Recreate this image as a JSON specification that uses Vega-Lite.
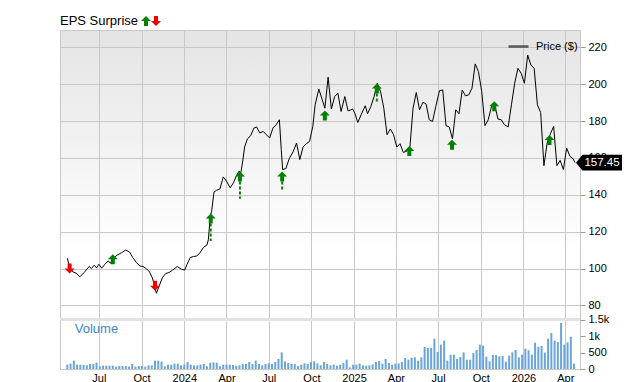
{
  "$schema": "https://vega.github.io/schema/vega-lite/v6.json",
  "width": 520,
  "height": 339,
  "autosize": {"type": "none"},
  "padding": {"left": 60, "top": 30, "right": 60, "bottom": 13},
  "background": "white",
  "config": {
    "font": "Liberation Sans",
    "view": {
      "stroke": "#c8c8c8",
      "fill": {"gradient": "linear", "x1": 0, "y1": 0, "x2": 0, "y2": 1,
        "stops": [{"offset": 0, "color": "#e4e4e4"}, {"offset": 0.65, "color": "#ffffff"}, {"offset": 1, "color": "#ffffff"}]}
    },
    "axis": {"gridColor": "#c8c8c8", "gridOpacity": 1, "labelFont": "Liberation Sans", "labelFontSize": 11, "labelColor": "#000", "domain": false, "tickColor": "#999", "title": null, "zindex": 0},
    "legend": {"labelFont": "Liberation Sans", "titleFont": "Liberation Sans"}
  },
  "datasets": {
    "price": [
      {"d":"2023-04-24","p":105.6},{"d":"2023-04-29","p":100.5},{"d":"2023-05-06","p":98.2},{"d":"2023-05-13","p":97.5},{"d":"2023-05-21","p":95.5},{"d":"2023-05-30","p":97.8},{"d":"2023-06-10","p":101.1},{"d":"2023-06-15","p":100.0},{"d":"2023-06-21","p":101.8},{"d":"2023-06-26","p":100.3},
      {"d":"2023-07-01","p":102.3},{"d":"2023-07-07","p":100.2},{"d":"2023-07-14","p":102.3},{"d":"2023-07-21","p":104.1},{"d":"2023-07-26","p":102.9},{"d":"2023-07-31","p":105.4},{"d":"2023-08-09","p":107.2},{"d":"2023-08-19","p":108.6},{"d":"2023-08-28","p":110.0},{"d":"2023-09-05","p":109.0},
      {"d":"2023-09-12","p":106.0},{"d":"2023-09-20","p":103.2},{"d":"2023-09-27","p":101.4},{"d":"2023-10-04","p":101.1},{"d":"2023-10-11","p":100.0},{"d":"2023-10-18","p":98.2},{"d":"2023-10-24","p":95.1},{"d":"2023-10-29","p":90.6},{"d":"2023-11-02","p":86.6},{"d":"2023-11-08","p":90.6},
      {"d":"2023-11-15","p":95.1},{"d":"2023-11-22","p":97.3},{"d":"2023-11-29","p":97.8},{"d":"2023-12-07","p":99.2},{"d":"2023-12-17","p":101.1},{"d":"2023-12-26","p":99.6},{"d":"2024-01-02","p":99.2},{"d":"2024-01-07","p":102.3},{"d":"2024-01-14","p":106.0},{"d":"2024-01-21","p":106.5},
      {"d":"2024-01-28","p":106.8},{"d":"2024-02-04","p":108.6},{"d":"2024-02-11","p":111.4},{"d":"2024-02-19","p":112.8},{"d":"2024-02-22","p":115.8},{"d":"2024-02-26","p":128.4},{"d":"2024-02-29","p":131.1},{"d":"2024-03-05","p":141.4},{"d":"2024-03-11","p":142.5},{"d":"2024-03-18","p":143.2},
      {"d":"2024-03-25","p":149.7},{"d":"2024-04-01","p":147.4},{"d":"2024-04-09","p":143.8},{"d":"2024-04-16","p":146.5},{"d":"2024-04-22","p":150.1},{"d":"2024-04-28","p":152.8},{"d":"2024-05-02","p":151.9},{"d":"2024-05-07","p":160.0},{"d":"2024-05-10","p":165.9},{"d":"2024-05-16","p":170.3},
      {"d":"2024-05-23","p":172.0},{"d":"2024-05-30","p":176.2},{"d":"2024-06-05","p":176.8},{"d":"2024-06-12","p":173.5},{"d":"2024-06-19","p":174.4},{"d":"2024-06-26","p":172.6},{"d":"2024-07-03","p":170.8},{"d":"2024-07-10","p":176.2},{"d":"2024-07-17","p":178.0},{"d":"2024-07-24","p":180.7},
      {"d":"2024-07-28","p":164.5},{"d":"2024-07-31","p":153.7},{"d":"2024-08-07","p":154.2},{"d":"2024-08-14","p":159.5},{"d":"2024-08-23","p":163.6},{"d":"2024-08-30","p":168.1},{"d":"2024-09-06","p":159.1},{"d":"2024-09-13","p":165.9},{"d":"2024-09-20","p":167.7},{"d":"2024-09-27","p":169.0},
      {"d":"2024-10-04","p":177.1},{"d":"2024-10-09","p":188.8},{"d":"2024-10-17","p":197.3},{"d":"2024-10-24","p":191.9},{"d":"2024-10-30","p":187.0},{"d":"2024-11-06","p":203.8},{"d":"2024-11-13","p":186.5},{"d":"2024-11-20","p":193.3},{"d":"2024-11-27","p":195.1},{"d":"2024-12-04","p":185.2},
      {"d":"2024-12-12","p":193.3},{"d":"2024-12-19","p":185.5},{"d":"2024-12-29","p":186.5},{"d":"2025-01-03","p":184.0},{"d":"2025-01-09","p":179.2},{"d":"2025-01-16","p":183.4},{"d":"2025-01-25","p":188.3},{"d":"2025-01-30","p":184.0},{"d":"2025-02-06","p":187.9},{"d":"2025-02-13","p":193.3},
      {"d":"2025-02-20","p":200.5},{"d":"2025-02-27","p":196.0},{"d":"2025-03-06","p":187.0},{"d":"2025-03-13","p":172.6},{"d":"2025-03-20","p":175.7},{"d":"2025-03-27","p":172.6},{"d":"2025-04-03","p":165.9},{"d":"2025-04-10","p":167.7},{"d":"2025-04-17","p":163.0},{"d":"2025-04-24","p":163.6},
      {"d":"2025-05-01","p":164.9},{"d":"2025-05-08","p":187.0},{"d":"2025-05-15","p":195.5},{"d":"2025-05-22","p":186.1},{"d":"2025-05-29","p":190.1},{"d":"2025-06-05","p":189.4},{"d":"2025-06-12","p":180.7},{"d":"2025-06-19","p":179.8},{"d":"2025-06-26","p":187.9},{"d":"2025-07-04","p":196.5},
      {"d":"2025-07-11","p":196.9},{"d":"2025-07-18","p":177.5},{"d":"2025-07-25","p":176.8},{"d":"2025-08-01","p":170.3},{"d":"2025-08-08","p":186.1},{"d":"2025-08-15","p":184.0},{"d":"2025-08-22","p":196.9},{"d":"2025-08-29","p":193.7},{"d":"2025-09-05","p":194.2},{"d":"2025-09-12","p":197.8},
      {"d":"2025-09-19","p":211.0},{"d":"2025-09-26","p":206.8},{"d":"2025-10-03","p":196.0},{"d":"2025-10-10","p":177.5},{"d":"2025-10-17","p":180.7},{"d":"2025-10-24","p":187.9},{"d":"2025-10-31","p":188.8},{"d":"2025-11-07","p":181.1},{"d":"2025-11-14","p":180.7},{"d":"2025-11-21","p":178.0},
      {"d":"2025-11-29","p":176.8},{"d":"2025-12-06","p":188.8},{"d":"2025-12-13","p":200.5},{"d":"2025-12-20","p":208.6},{"d":"2025-12-27","p":205.9},{"d":"2026-01-03","p":200.5},{"d":"2026-01-10","p":215.8},{"d":"2026-01-17","p":210.4},{"d":"2026-01-24","p":208.6},{"d":"2026-01-31","p":188.8},
      {"d":"2026-02-07","p":184.6},{"d":"2026-02-14","p":155.8},{"d":"2026-02-21","p":168.1},{"d":"2026-02-28","p":173.1},{"d":"2026-03-07","p":177.1},{"d":"2026-03-14","p":155.8},{"d":"2026-03-21","p":158.7},{"d":"2026-03-28","p":153.7},{"d":"2026-04-04","p":165.4},{"d":"2026-04-11","p":160.9},
      {"d":"2026-04-18","p":159.5},{"d":"2026-04-22","p":157.45}
    ],
    "eps": [
      {"d":"2023-04-29","t":"miss","p":100.0},
      {"d":"2023-07-31","t":"beat","p":105.0},
      {"d":"2023-10-30","t":"miss","p":90.6},
      {"d":"2024-02-27","t":"beat","p":127.2,"lo":115.0},
      {"d":"2024-04-30","t":"beat","p":149.9,"lo":137.8},
      {"d":"2024-07-30","t":"beat","p":149.9,"lo":142.9},
      {"d":"2024-10-30","t":"beat","p":183.0},
      {"d":"2025-02-19","t":"beat","p":197.7,"lo":190.0},
      {"d":"2025-04-30","t":"beat","p":163.8},
      {"d":"2025-07-31","t":"beat","p":167.2},
      {"d":"2025-10-30","t":"beat","p":188.0},
      {"d":"2026-02-26","t":"beat","p":169.7}
    ],
    "vol": [
      {"d":"2023-04-24","v":131},{"d":"2023-05-01","v":162},{"d":"2023-05-08","v":253},{"d":"2023-05-15","v":131},{"d":"2023-05-22","v":131},{"d":"2023-05-29","v":121},{"d":"2023-06-05","v":111},{"d":"2023-06-12","v":152},{"d":"2023-06-19","v":152},{"d":"2023-06-26","v":192},
      {"d":"2023-07-03","v":81},{"d":"2023-07-10","v":101},{"d":"2023-07-17","v":101},{"d":"2023-07-24","v":101},{"d":"2023-07-31","v":101},{"d":"2023-08-07","v":71},{"d":"2023-08-14","v":91},{"d":"2023-08-21","v":91},{"d":"2023-08-28","v":91},{"d":"2023-09-04","v":71},
      {"d":"2023-09-11","v":152},{"d":"2023-09-18","v":71},{"d":"2023-09-25","v":91},{"d":"2023-10-02","v":91},{"d":"2023-10-09","v":71},{"d":"2023-10-16","v":111},{"d":"2023-10-23","v":111},{"d":"2023-10-30","v":253},{"d":"2023-11-06","v":253},{"d":"2023-11-13","v":222},
      {"d":"2023-11-20","v":81},{"d":"2023-11-27","v":131},{"d":"2023-12-04","v":131},{"d":"2023-12-11","v":162},{"d":"2023-12-18","v":162},{"d":"2023-12-25","v":111},{"d":"2024-01-01","v":131},{"d":"2024-01-08","v":212},{"d":"2024-01-15","v":131},{"d":"2024-01-22","v":111},
      {"d":"2024-01-29","v":111},{"d":"2024-02-05","v":131},{"d":"2024-02-12","v":152},{"d":"2024-02-19","v":81},{"d":"2024-02-26","v":192},{"d":"2024-03-04","v":202},{"d":"2024-03-11","v":192},{"d":"2024-03-18","v":81},{"d":"2024-03-25","v":131},{"d":"2024-04-01","v":131},
      {"d":"2024-04-08","v":131},{"d":"2024-04-15","v":121},{"d":"2024-04-22","v":101},{"d":"2024-04-29","v":111},{"d":"2024-05-06","v":152},{"d":"2024-05-13","v":152},{"d":"2024-05-20","v":212},{"d":"2024-05-27","v":152},{"d":"2024-06-03","v":253},{"d":"2024-06-10","v":152},
      {"d":"2024-06-17","v":111},{"d":"2024-06-24","v":152},{"d":"2024-07-01","v":172},{"d":"2024-07-08","v":152},{"d":"2024-07-15","v":212},{"d":"2024-07-22","v":303},{"d":"2024-07-29","v":505},{"d":"2024-08-05","v":232},{"d":"2024-08-12","v":182},{"d":"2024-08-19","v":152},
      {"d":"2024-08-26","v":152},{"d":"2024-09-02","v":91},{"d":"2024-09-09","v":131},{"d":"2024-09-16","v":172},{"d":"2024-09-23","v":152},{"d":"2024-09-30","v":212},{"d":"2024-10-07","v":232},{"d":"2024-10-14","v":172},
      {"d":"2024-10-21","v":111},{"d":"2024-10-28","v":212},{"d":"2024-11-04","v":152},{"d":"2024-11-11","v":111},{"d":"2024-11-18","v":131},{"d":"2024-11-25","v":101},{"d":"2024-12-02","v":131},{"d":"2024-12-09","v":182},{"d":"2024-12-16","v":283},{"d":"2024-12-23","v":50},
      {"d":"2024-12-30","v":131},{"d":"2025-01-06","v":131},{"d":"2025-01-13","v":162},{"d":"2025-01-20","v":111},{"d":"2025-01-27","v":101},{"d":"2025-02-03","v":111},{"d":"2025-02-10","v":141},{"d":"2025-02-17","v":212},{"d":"2025-02-24","v":242},{"d":"2025-03-03","v":162},
      {"d":"2025-03-10","v":303},{"d":"2025-03-17","v":182},{"d":"2025-03-24","v":131},{"d":"2025-03-31","v":162},{"d":"2025-04-07","v":172},{"d":"2025-04-14","v":212},{"d":"2025-04-21","v":333},{"d":"2025-04-28","v":283},{"d":"2025-05-05","v":343},{"d":"2025-05-12","v":353},
      {"d":"2025-05-19","v":252},{"d":"2025-05-26","v":353},{"d":"2025-06-02","v":667},{"d":"2025-06-09","v":636},{"d":"2025-06-16","v":636},{"d":"2025-06-23","v":919},{"d":"2025-06-30","v":515},{"d":"2025-07-07","v":737},{"d":"2025-07-14","v":859},{"d":"2025-07-21","v":252},
      {"d":"2025-07-28","v":434},{"d":"2025-08-04","v":434},{"d":"2025-08-11","v":303},{"d":"2025-08-18","v":364},{"d":"2025-08-25","v":505},{"d":"2025-09-01","v":283},{"d":"2025-09-08","v":283},{"d":"2025-09-15","v":485},{"d":"2025-09-22","v":576},{"d":"2025-09-29","v":737},
      {"d":"2025-10-06","v":707},{"d":"2025-10-13","v":374},{"d":"2025-10-20","v":232},{"d":"2025-10-27","v":424},{"d":"2025-11-03","v":424},{"d":"2025-11-10","v":384},{"d":"2025-11-17","v":394},{"d":"2025-11-24","v":222},{"d":"2025-12-01","v":404},{"d":"2025-12-08","v":505},
      {"d":"2025-12-15","v":576},{"d":"2025-12-22","v":353},{"d":"2025-12-29","v":434},{"d":"2026-01-05","v":616},{"d":"2026-01-12","v":566},{"d":"2026-01-19","v":434},{"d":"2026-01-26","v":798},{"d":"2026-02-02","v":677},{"d":"2026-02-09","v":697},{"d":"2026-02-16","v":495},
      {"d":"2026-02-23","v":919},{"d":"2026-03-02","v":1091},{"d":"2026-03-09","v":859},{"d":"2026-03-16","v":818},{"d":"2026-03-23","v":1394},{"d":"2026-03-30","v":737},{"d":"2026-04-06","v":808},{"d":"2026-04-13","v":980},{"d":"2026-04-20","v":162}
    ]
  },
  "layer": [
    {
      "layer": [
        {
          "data": {"name": "price"},
          "mark": {"type": "line", "strokeWidth": 1, "interpolate": "linear"},
          "encoding": {
            "x": {"field": "d", "type": "temporal",
              "scale": {"domain": ["2023-04-19", "2026-04-22"]},
              "axis": {"orient": "bottom", "ticks": false, "labelPadding": 3, "grid": true,
                "values": [{"year":2023,"month":7,"date":1},{"year":2023,"month":10,"date":1},{"year":2024,"month":1,"date":1},{"year":2024,"month":4,"date":1},{"year":2024,"month":7,"date":1},{"year":2024,"month":10,"date":1},{"year":2025,"month":1,"date":1},{"year":2025,"month":4,"date":1},{"year":2025,"month":7,"date":1},{"year":2025,"month":10,"date":1},{"year":2026,"month":1,"date":1},{"year":2026,"month":4,"date":1}],
                "labelExpr": "month(datum.value) == 0 ? timeFormat(datum.value, '%Y') : timeFormat(datum.value, '%b')"}},
            "y": {"field": "p", "type": "quantitative",
              "scale": {"domain": [45.5, 229.4], "nice": false, "zero": false},
              "axis": {"orient": "right", "values": [80, 100, 120, 140, 160, 180, 200, 220], "grid": true, "tickSize": 5, "labelPadding": 3, "offset": 0}},
            "stroke": {"datum": "Price ($)", "type": "nominal", "scale": {"range": ["#000000"]},
              "legend": {"orient": "none", "legendX": 447, "legendY": 5, "padding": 0, "title": null, "symbolType": "stroke", "symbolSize": 400, "symbolStrokeWidth": 2.5, "symbolOpacity": 0.6, "labelFontSize": 11, "labelColor": "#000", "labelOffset": 6}}
          }
        },
        {
          "data": {"name": "eps"},
          "transform": [{"filter": "isValid(datum.lo)"}],
          "mark": {"type": "rule", "color": "#008000", "strokeWidth": 2, "strokeDash": [3, 2]},
          "encoding": {
            "x": {"field": "d", "type": "temporal"},
            "y": {"field": "p", "type": "quantitative"},
            "y2": {"field": "lo"}
          }
        },
        {
          "data": {"name": "eps"},
          "mark": {"type": "point", "filled": true, "opacity": 1, "size": 100, "strokeWidth": 0},
          "encoding": {
            "x": {"field": "d", "type": "temporal"},
            "y": {"field": "p", "type": "quantitative"},
            "fill": {"field": "t", "type": "nominal",
              "scale": {"domain": ["beat", "miss"], "range": ["#008000", "#ee0000"]},
              "legend": {"orient": "none", "legendX": 0, "legendY": -14, "direction": "horizontal", "title": "EPS Surprise", "titleOrient": "left", "titleFontSize": 13, "titleFontWeight": "normal", "titleColor": "#000", "titlePadding": 2, "labelExpr": "''", "labelOffset": 0, "columnPadding": 0, "symbolSize": 100, "padding": 0, "symbolStrokeWidth": 0}},
            "shape": {"field": "t", "type": "nominal",
              "scale": {"domain": ["beat", "miss"], "range": ["M0,-1L1,0L0.4,0L0.4,1L-0.4,1L-0.4,0L-1,0Z", "M0,1L1,0L0.4,0L0.4,-1L-0.4,-1L-0.4,0L-1,0Z"]},
              "legend": {"orient": "none", "legendX": 0, "legendY": -14, "direction": "horizontal", "title": "EPS Surprise", "titleOrient": "left", "titleFontSize": 13, "titleFontWeight": "normal", "titleColor": "#000", "titlePadding": 2, "labelExpr": "''", "labelOffset": 0, "columnPadding": 0, "symbolSize": 100, "padding": 0, "symbolStrokeWidth": 0}}
          }
        },
        {
          "data": {"name": "price"},
          "transform": [{"filter": "datum.p == 157.45"}],
          "mark": {"type": "point", "filled": true, "opacity": 1, "size": 2116, "color": "#000000", "strokeWidth": 0, "xOffset": 24, "clip": false, "shape": "M-1,0L-0.72,-0.34L1,-0.34L1,0.34L-0.72,0.34Z"},
          "encoding": {
            "x": {"field": "d", "type": "temporal"},
            "y": {"field": "p", "type": "quantitative"}
          }
        },
        {
          "data": {"name": "price"},
          "transform": [{"filter": "datum.p == 157.45"}],
          "mark": {"type": "text", "fill": "#ffffff", "fontSize": 11.5, "dx": 27, "align": "center", "baseline": "middle", "clip": false},
          "encoding": {
            "x": {"field": "d", "type": "temporal"},
            "y": {"field": "p", "type": "quantitative"},
            "text": {"field": "p", "type": "quantitative", "format": ".2f"}
          }
        }
      ]
    },
    {
      "layer": [
        {
          "data": {"name": "vol"},
          "mark": {"type": "bar", "size": 2, "color": "#6aa5da"},
          "encoding": {
            "x": {"field": "d", "type": "temporal"},
            "y": {"field": "v", "type": "quantitative",
              "scale": {"domain": [0, 10280], "nice": false},
              "axis": {"orient": "right", "values": [0, 500, 1000, 1500], "grid": false, "tickSize": 5, "labelPadding": 3, "offset": 0,
                "labelExpr": "datum.value >= 1000 ? (datum.value / 1000) + 'k' : datum.value"}}
          }
        },
        {
          "data": {"values": [{"v": 1500}]},
          "mark": {"type": "rule", "color": "#e2e2e2", "strokeWidth": 3},
          "encoding": {"y": {"field": "v", "type": "quantitative"}}
        },
        {
          "data": {"values": [{"d": "2023-05-10", "v": 1220, "label": "Volume"}]},
          "mark": {"type": "text", "color": "#3d87c9", "fontSize": 13, "align": "left", "baseline": "middle"},
          "encoding": {
            "x": {"field": "d", "type": "temporal"},
            "y": {"field": "v", "type": "quantitative"},
            "text": {"field": "label"}
          }
        }
      ]
    }
  ],
  "resolve": {"scale": {"y": "independent"}, "axis": {"y": "independent"}}
}
